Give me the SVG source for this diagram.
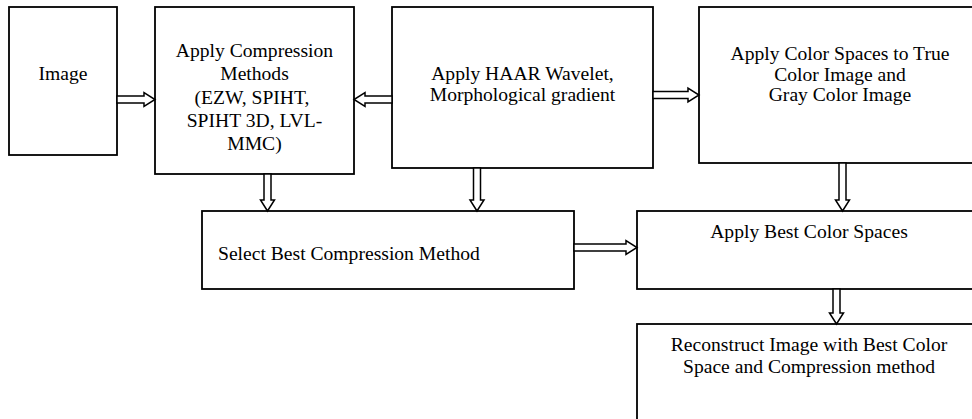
<svg xmlns="http://www.w3.org/2000/svg" width="972" height="419" viewBox="0 0 972 419">
<style>
.box{fill:#fff;stroke:#000;stroke-width:1.8}
.arr{fill:#fff;stroke:#000;stroke-width:1.5;stroke-linejoin:miter}
text{font-family:"Liberation Serif","Times New Roman",serif;font-size:19.6px;fill:#000}
.c{text-anchor:middle}
</style>
<rect width="972" height="419" fill="#fff"/>
<g id="node-image">
<rect class="box" x="9" y="7" width="108" height="148"/>
<text class="c" x="63" y="80">Image</text>
</g>
<g id="node-compression">
<rect class="box" x="155" y="7" width="199" height="167"/>
<text class="c" x="254.5" y="57">Apply Compression</text>
<text class="c" x="254.5" y="80.3">Methods</text>
<text class="c" x="252" y="103.6">(EZW, SPIHT,</text>
<text class="c" x="254.5" y="126.9">SPIHT 3D, LVL-</text>
<text class="c" x="254.5" y="150.2">MMC)</text>
</g>
<g id="node-haar">
<rect class="box" x="392" y="7" width="261" height="161"/>
<text class="c" x="522.5" y="80">Apply HAAR Wavelet,</text>
<text class="c" x="522.5" y="101">Morphological gradient</text>
</g>
<g id="node-colorspaces">
<rect class="box" x="699" y="7" width="282" height="156"/>
<text class="c" x="840" y="60">Apply Color Spaces to True</text>
<text class="c" x="840" y="80.5">Color Image and</text>
<text class="c" x="840" y="101">Gray Color Image</text>
</g>
<g id="node-select">
<rect class="box" x="202" y="211" width="372" height="78"/>
<text x="218" y="260">Select Best Compression Method</text>
</g>
<g id="node-bestcolor">
<rect class="box" x="637" y="211" width="344" height="78"/>
<text class="c" x="809" y="238">Apply Best Color Spaces</text>
</g>
<g id="node-reconstruct">
<rect class="box" x="637" y="324" width="344" height="110"/>
<text class="c" x="809" y="351">Reconstruct Image with Best Color</text>
<text class="c" x="809" y="373">Space and Compression method</text>
</g>
<g id="connectors">
<polygon class="arr" points="117,96 144,96 144,92.5 155,99.5 144,106.5 144,103 117,103"/>
<polygon class="arr" points="392,96 365,96 365,92.5 354,99.5 365,106.5 365,103 392,103"/>
<polygon class="arr" points="653,91.5 688,91.5 688,88 699,95 688,102 688,98.5 653,98.5"/>
<polygon class="arr" points="264,174 264,200 260.5,200 267.5,211 274.5,200 271,200 271,174"/>
<polygon class="arr" points="473.5,168 473.5,200 470,200 477,211 484,200 480.5,200 480.5,168"/>
<polygon class="arr" points="839,163 839,200 835.5,200 842.5,211 849.5,200 846,200 846,163"/>
<polygon class="arr" points="574,244 626,244 626,240.5 637,247.5 626,254.5 626,251 574,251"/>
<polygon class="arr" points="833,289 833,313 829.5,313 836.5,324 843.5,313 840,313 840,289"/>
</g>
</svg>
